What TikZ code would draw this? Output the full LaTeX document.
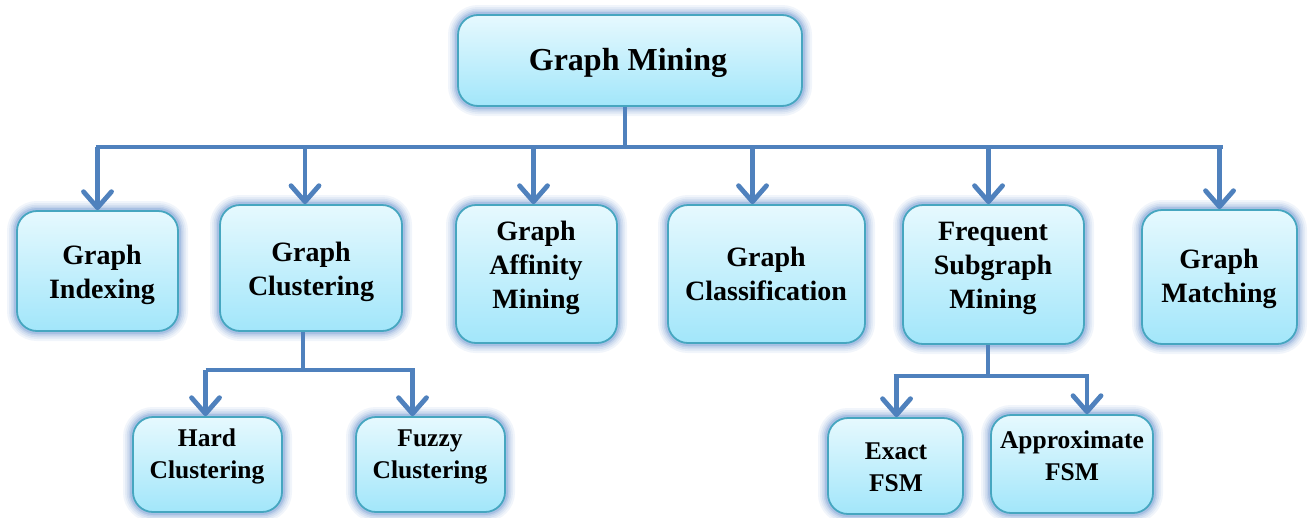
\documentclass[tikz,border=0pt]{standalone}
\usepackage{fontspec}
\setmainfont{Liberation Serif}
\usetikzlibrary{arrows.meta,calc}

\definecolor{linkblue}{HTML}{4F81BD}
\definecolor{glowblue}{HTML}{3F74C0}
\definecolor{boxedge}{HTML}{46A6C0}
\definecolor{boxtop}{HTML}{E6F9FE}
\definecolor{boxbottom}{HTML}{A2E6FA}

\tikzset{
  box/.style={
    rectangle, rounded corners=20pt, draw=boxedge, line width=1.8pt,
    top color=boxtop, bottom color=boxbottom, inner sep=0pt,
    preaction={draw=glowblue, draw opacity=0.07, line width=20pt},
    preaction={draw=glowblue, draw opacity=0.08, line width=16pt},
    preaction={draw=glowblue, draw opacity=0.10, line width=12.5pt},
    preaction={draw=glowblue, draw opacity=0.13, line width=9pt},
    preaction={draw=glowblue, draw opacity=0.18, line width=6pt},
  },
  lbl/.style={align=center, font=\bfseries, text=black, inner sep=0pt},
  lvlA/.style={lbl, font=\fontsize{32}{38}\selectfont\bfseries},
  lvlB/.style={lbl, font=\fontsize{28}{34}\selectfont\bfseries},
  lvlC/.style={lbl, font=\fontsize{25.5}{32}\selectfont\bfseries},
  link/.style={draw=linkblue, line width=4.8pt},
  arr/.style={link, -{Straight Barb[length=16pt, width=28pt, line width=4.8pt, round]}},
}

\begin{document}
\begin{tikzpicture}[x=1pt, y=-1pt]
\useasboundingbox (0,0) rectangle (1311,517);

% boxes
\node[box, minimum width=344pt, minimum height=91pt] (gm) at (630,60.5) {};
\node[box, minimum width=161pt, minimum height=120pt] (gi) at (97.5,271) {};
\node[box, minimum width=182pt, minimum height=126pt] (gc) at (311,268) {};
\node[box, minimum width=161pt, minimum height=138pt] (ga) at (536.5,274) {};
\node[box, minimum width=197pt, minimum height=138pt] (gk) at (766.5,274) {};
\node[box, minimum width=181pt, minimum height=139pt] (fs) at (993.5,274.5) {};
\node[box, minimum width=155pt, minimum height=134pt] (gx) at (1219.5,277) {};
\node[box, minimum width=149pt, minimum height=95pt] (hc) at (207.5,464.5) {};
\node[box, minimum width=149pt, minimum height=95pt] (fc) at (430.5,464.5) {};
\node[box, minimum width=135pt, minimum height=96pt] (ef) at (895.5,466) {};
\node[box, minimum width=162pt, minimum height=98pt] (af) at (1072,464) {};

% labels
\node[lvlA] (gm-t) at (628,63) {Graph Mining};
\node[lvlB] (gi-t) at (102,275) {Graph\\Indexing};
\node[lvlB] (gc-t) at (311,272) {Graph\\Clustering};
\node[lvlB] (ga-t) at (536,267.5) {Graph\\Affinity\\Mining};
\node[lvlB] (gk-t) at (766,273.5) {Graph\\Classification};
\node[lvlB] (fs-t) at (993,268) {Frequent\\Subgraph\\Mining};
\node[lvlB] (gx-t) at (1219,279) {Graph\\Matching};
\node[lvlC] (hc-t) at (207,456.5) {Hard\\Clustering};
\node[lvlC] (fc-t) at (430,456.5) {Fuzzy\\Clustering};
\node[lvlC] (ef-t) at (896,467) {Exact\\FSM};
\node[lvlC] (af-t) at (1072,456) {Approximate\\FSM};

% first level
\coordinate (bus) at (625,147);
\draw[link] ([xshift=-5pt]gm.south) -- ([xshift=-5pt]gm.south |- bus);
\draw[link] ([xshift=-2pt]bus -| gi.north) -- ([xshift=3pt]bus -| gx.north);
\draw[arr] (bus -| gi.north) -- (gi.north);
\draw[arr] ([xshift=-6pt]bus -| gc.north) -- ([xshift=-6pt]gc.north);
\draw[arr] ([xshift=-3pt]bus -| ga.north) -- ([xshift=-3pt]ga.north);
\draw[arr] ([xshift=-14pt]bus -| gk.north) -- ([xshift=-14pt]gk.north);
\draw[arr] ([xshift=-5pt]bus -| fs.north) -- ([xshift=-5pt]fs.north);
\draw[arr] (bus -| gx.north) -- (gx.north);

% under Graph Clustering
\coordinate (cbus) at (303,370);
\draw[link] (gc.south -| cbus) -- (cbus);
\draw[link] ([xshift=-2pt]cbus -| hc.north) -- ([xshift=-16pt]cbus -| fc.north);
\draw[arr] ([xshift=-2pt]cbus -| hc.north) -- ([xshift=-2pt]hc.north);
\draw[arr] ([xshift=-18pt]cbus -| fc.north) -- ([xshift=-18pt]fc.north);

% under Frequent Subgraph Mining
\coordinate (fbus) at (988,376);
\draw[link] (fs.south -| fbus) -- (fbus);
\draw[link] ([xshift=-2pt]fbus -| ef.north) -- ([xshift=17pt]fbus -| af.north);
\draw[arr] ([xshift=1pt]fbus -| ef.north) -- ([xshift=1pt]ef.north);
\draw[arr] ([xshift=15pt]fbus -| af.north) -- ([xshift=15pt]af.north);
\end{tikzpicture}
\end{document}
